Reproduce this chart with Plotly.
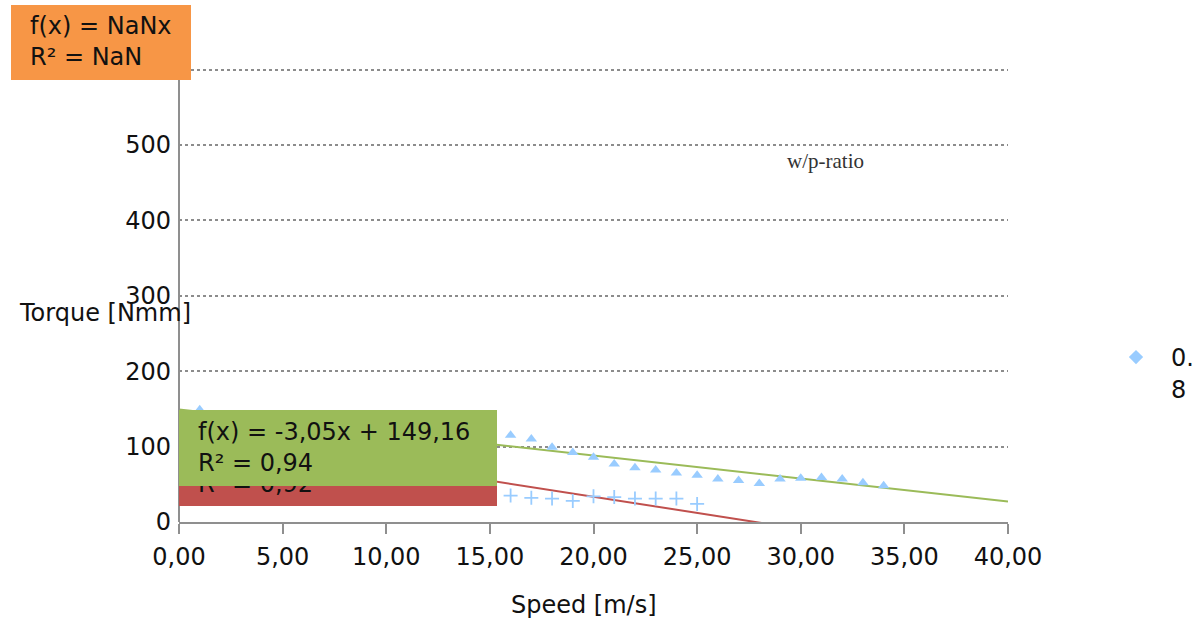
import plotly.graph_objects as go

# Measured samples (speed in m/s, torque in Nmm)
tri_speed = [1, 16, 17, 18, 19, 20, 21, 22, 23, 24, 25, 26, 27, 28, 29, 30, 31, 32, 33, 34]
tri_torque = [149, 115, 110, 99, 92, 86, 77, 72, 69, 65, 62, 57, 55, 51, 57, 58, 59, 57, 52, 48]

cross_speed = [16, 17, 18, 19, 20, 21, 22, 23, 24, 25]
cross_torque = [35, 32, 31, 28, 34, 33, 31, 31, 31, 24]

# Linear trend coefficients (slope, intercept, R²)
green_fit = (-3.05, 149.16, 0.94)
red_fit = (-4.29, 119.30, 0.92)

x_ticks = [0, 5, 10, 15, 20, 25, 30, 35, 40]
x_ticklabels = ["0,00", "5,00", "10,00", "15,00", "20,00", "25,00", "30,00", "35,00", "40,00"]
y_ticks = [0, 100, 200, 300, 400, 500, 600]

legend_name = "0.<br>8"
chart_title = "w/p-ratio"

W, H = 1197, 618
Y_MAX = 610
L, R, B = 179, 1008, 522
Y600 = 69.6                      # pixel row of the 600 grid line
T = B - (B - Y600) * Y_MAX / 600  # top of the plotting area
FONT = "DejaVu Sans"
FS = 24
BLUE = "#99CCFF"
GREEN = "#9BBB59"
RED = "#C0504D"
ORANGE = "#F79646"
INK = "#111"
AXIS = "#8f8f8f"


def fx(px):
    return (px - L) / (R - L)


def fy(py):
    return (B - py) / (B - T)


def fmt(v):
    return f"{v:.2f}".replace(".", ",")


def trend_label(fit):
    m, b, r2 = fit
    sign = "+" if b >= 0 else "-"
    return f"f(x) = {fmt(m)}x {sign} {fmt(abs(b))}<br>R² = {fmt(r2)}"


fig = go.Figure()

# trend lines over the full x range
xs = [0, 40]
fig.add_trace(go.Scatter(x=xs, y=[red_fit[0] * x + red_fit[1] for x in xs], mode="lines",
                         line=dict(color=RED, width=2), showlegend=False, hoverinfo="skip"))
fig.add_trace(go.Scatter(x=xs, y=[green_fit[0] * x + green_fit[1] for x in xs], mode="lines",
                         line=dict(color=GREEN, width=2), showlegend=False, hoverinfo="skip"))

fig.add_trace(go.Scatter(x=tri_speed, y=tri_torque, mode="markers",
                         marker=dict(symbol="triangle-up", size=10, color=BLUE),
                         showlegend=False))
fig.add_trace(go.Scatter(x=cross_speed, y=cross_torque, mode="markers",
                         marker=dict(symbol="cross-thin", size=10,
                                     line=dict(color=BLUE, width=1.8)),
                         showlegend=False))
# legend entry series (no samples)
fig.add_trace(go.Scatter(x=[None], y=[None], mode="markers", name=legend_name,
                         marker=dict(symbol="diamond", size=11, color=BLUE)))

annotations = []


def add_box(x0, y0, x1, y1, color, text):
    annotations.append(dict(xref="paper", yref="paper", x=fx(x0), y=fy(y0),
                            xanchor="left", yanchor="top", text=" ", showarrow=False,
                            width=x1 - x0, height=y1 - y0, bgcolor=color,
                            borderpad=0, borderwidth=0))
    annotations.append(dict(xref="paper", yref="paper", x=fx(x0 + 17), y=fy((y0 + y1) / 2 - 0.5),
                            xanchor="left", yanchor="middle", text=text, showarrow=False,
                            align="left", font=dict(family=FONT, size=FS, color=INK)))


add_box(179, 432, 497, 506, RED, trend_label(red_fit))
add_box(179, 410, 497, 486, GREEN, trend_label(green_fit))
add_box(11, 5, 191, 80, ORANGE, "f(x) = NaNx<br>R² = NaN")

annotations.append(dict(xref="paper", yref="paper", x=fx(825), y=fy(161),
                        xanchor="center", yanchor="middle", text=chart_title, showarrow=False,
                        font=dict(family="Liberation Serif", size=21, color="#333")))
annotations.append(dict(xref="paper", yref="paper", x=fx(105), y=fy(313),
                        xanchor="center", yanchor="middle", text="Torque [Nmm]", showarrow=False,
                        font=dict(family=FONT, size=FS, color=INK)))
annotations.append(dict(xref="paper", yref="paper", x=fx(584), y=fy(605),
                        xanchor="center", yanchor="middle", text="Speed [m/s]", showarrow=False,
                        font=dict(family=FONT, size=FS, color=INK)))

fig.update_layout(
    width=W, height=H,
    margin=dict(l=L, r=W - R, t=T, b=H - B, pad=0, autoexpand=False),
    paper_bgcolor="white", plot_bgcolor="white",
    font=dict(family=FONT, size=FS, color=INK),
    annotations=annotations,
    showlegend=True,
    legend=dict(x=fx(1101), y=fy(335), xanchor="left", yanchor="top",
                valign="top", itemwidth=60, bgcolor="rgba(0,0,0,0)",
                font=dict(family=FONT, size=FS, color=INK)),
)

fig.update_xaxes(range=[0, 40], tickvals=x_ticks, ticktext=x_ticklabels,
                 showgrid=False, zeroline=False, showline=True, linecolor=AXIS,
                 linewidth=2, ticks="outside", ticklen=10, tickwidth=2, tickcolor=AXIS,
                 ticklabelstandoff=2,
                 tickfont=dict(family=FONT, size=FS, color=INK))
fig.update_yaxes(range=[0, Y_MAX], tickvals=y_ticks, showgrid=True, gridcolor="#8c8c8c",
                 griddash="dot", gridwidth=1.5, zeroline=False, showline=False,
                 ticks="", ticklabelstandoff=7,
                 tickfont=dict(family=FONT, size=FS, color=INK))

# vertical axis line, running up to the 600 grid line (paper-referenced so it is not clipped)
fig.add_shape(type="line", xref="paper", yref="paper", x0=0, x1=0, y0=0, y1=fy(Y600),
              line=dict(color=AXIS, width=2), layer="above")

fig.write_html("out.html")
